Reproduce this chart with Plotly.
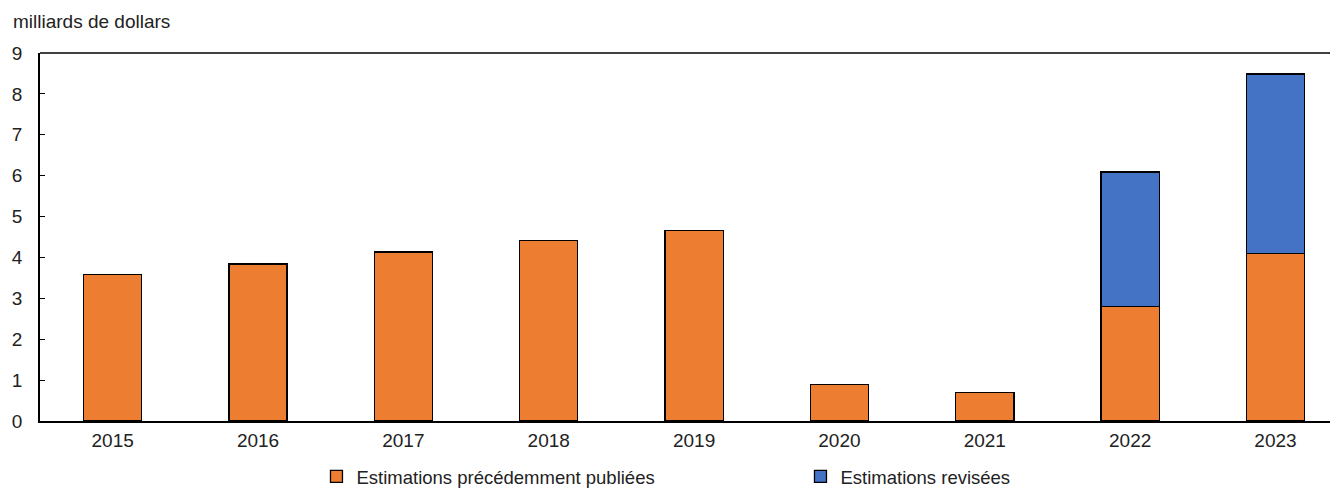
import plotly.graph_objects as go

years = ["2015", "2016", "2017", "2018", "2019", "2020", "2021", "2022", "2023"]
published = [3.58, 3.84, 4.13, 4.42, 4.66, 0.89, 0.70, 2.80, 4.09]
revised = [None, None, None, None, None, None, None, 3.29, 4.40]

name_published = "Estimations précédemment publiées"
name_revised = "Estimations revisées"
y_title = "milliards de dollars"

FONT = "Liberation Sans, Arial, sans-serif"
TXT = "#222222"
FS = 19

fig = go.Figure()
fig.add_trace(go.Bar(x=years, y=published, name=name_published,
                     marker=dict(color="#ED7D31", line=dict(color="#000000", width=1.3)),
                     width=0.4))
fig.add_trace(go.Bar(x=years, y=revised, name=name_revised,
                     marker=dict(color="#4472C4", line=dict(color="#000000", width=1.3)),
                     width=0.4))

# page body has an 8px margin, so the figure is sized to fit the 1338x490 window
fig.update_layout(
    barmode="stack",
    width=1330, height=482,
    margin=dict(l=32, r=0, t=45, b=69, autoexpand=False),
    plot_bgcolor="white", paper_bgcolor="white",
    font=dict(family=FONT, size=FS, color=TXT),
    showlegend=True,
    legend=dict(orientation="h", x=0.213, xanchor="left", y=-0.1, yanchor="top",
                entrywidth=439, entrywidthmode="pixels",
                font=dict(family=FONT, size=FS - 0.5, color=TXT),
                itemwidth=30, traceorder="normal",
                bgcolor="rgba(0,0,0,0)"),
    xaxis=dict(type="category", range=[-0.5, 8.43], showline=True, linecolor="#000000",
               linewidth=1.5, ticks="", showgrid=False, zeroline=False, automargin=False,
               ticklabelstandoff=1,
               tickfont=dict(family=FONT, size=FS, color=TXT)),
    yaxis=dict(range=[0, 9], dtick=1, showline=True, linecolor="#000000", linewidth=1.5,
               ticks="inside", ticklen=5, tickcolor="#000000", showgrid=False,
               zeroline=False, ticklabelstandoff=12, automargin=False,
               tickfont=dict(family=FONT, size=FS, color=TXT)),
    shapes=[dict(type="line", xref="paper", yref="paper", x0=0, x1=1, y0=1, y1=1,
                 line=dict(color="#000000", width=1.5))],
    annotations=[dict(text=y_title, xref="paper", yref="paper", x=-0.022, y=1.0,
                      xanchor="left", yanchor="bottom", yshift=19, showarrow=False,
                      font=dict(family=FONT, size=FS, color=TXT))],
)

fig.write_html("out.html")
